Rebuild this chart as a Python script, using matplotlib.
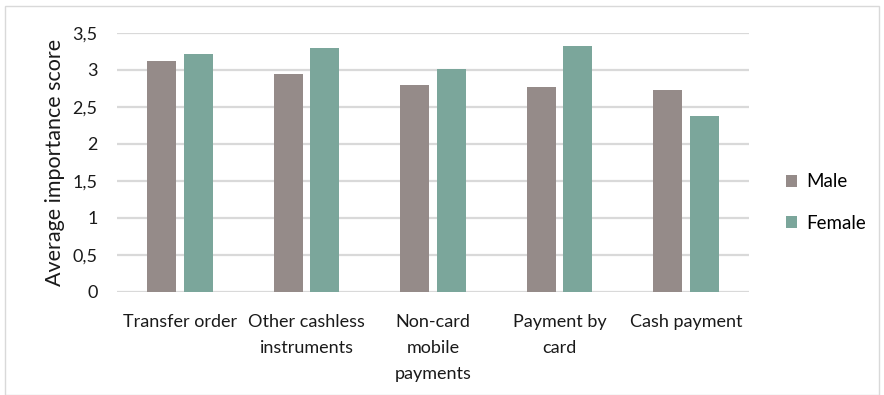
import numpy as np
import matplotlib.pyplot as plt
from matplotlib.patches import Rectangle

# Average importance score by payment type and gender
categories = ['Transfer order', 'Other cashless\ninstruments', 'Non-card\nmobile\npayments',
              'Payment by\ncard', 'Cash payment']
male = [3.12, 2.95, 2.80, 2.77, 2.73]
female = [3.22, 3.30, 3.01, 3.32, 2.38]
yticks = [0, 0.5, 1, 1.5, 2, 2.5, 3, 3.5]
ytick_labels = ['0', '0,5', '1', '1,5', '2', '2,5', '3', '3,5']

plt.rcParams['font.family'] = ['Lato', 'DejaVu Sans']

W, H = 884, 395
fig = plt.figure(figsize=(W / 100, H / 100), dpi=100)
ax = fig.add_axes([117 / W, 1 - 292 / H, (749 - 117) / W, (292 - 33) / H])

x = np.arange(len(categories))
w = 0.23
ax.bar(x - 0.145, male, w, color='#958B89', label='Male', zorder=3)
ax.bar(x + 0.145, female, w, color='#7BA69B', label='Female', zorder=3)

ax.set_xlim(-0.5, len(categories) - 0.5)
ax.set_ylim(0, 3.5)
ax.set_yticks(yticks)
ax.set_yticklabels(ytick_labels, fontsize=13, color='#1a1a1a')
ax.set_xticks(x)
ax.set_xticklabels(categories, fontsize=13, color='#1a1a1a', linespacing=1.75)
ax.tick_params(length=0)
ax.tick_params(axis='y', pad=14)
ax.tick_params(axis='x', pad=16)
ax.grid(axis='y', color='#D9D9D9', linewidth=1.6, zorder=0)
for s in ax.spines.values():
    s.set_visible(False)
ax.set_ylabel('Average importance score', fontsize=15.5, color='#1a1a1a', labelpad=5)

ax.legend(loc='center left', bbox_to_anchor=(1.0585, 0.345), frameon=False,
          fontsize=13.5, handlelength=0.6, handleheight=0.6, labelspacing=1.3,
          handletextpad=0.5, borderpad=0, borderaxespad=0)

fig.patches.append(Rectangle((5 / W, 0), 1 - 10 / W, 1 - 6 / H, transform=fig.transFigure,
                             fill=False, edgecolor='#D9D9D9', linewidth=1))

fig.savefig('out.png', dpi=100)
